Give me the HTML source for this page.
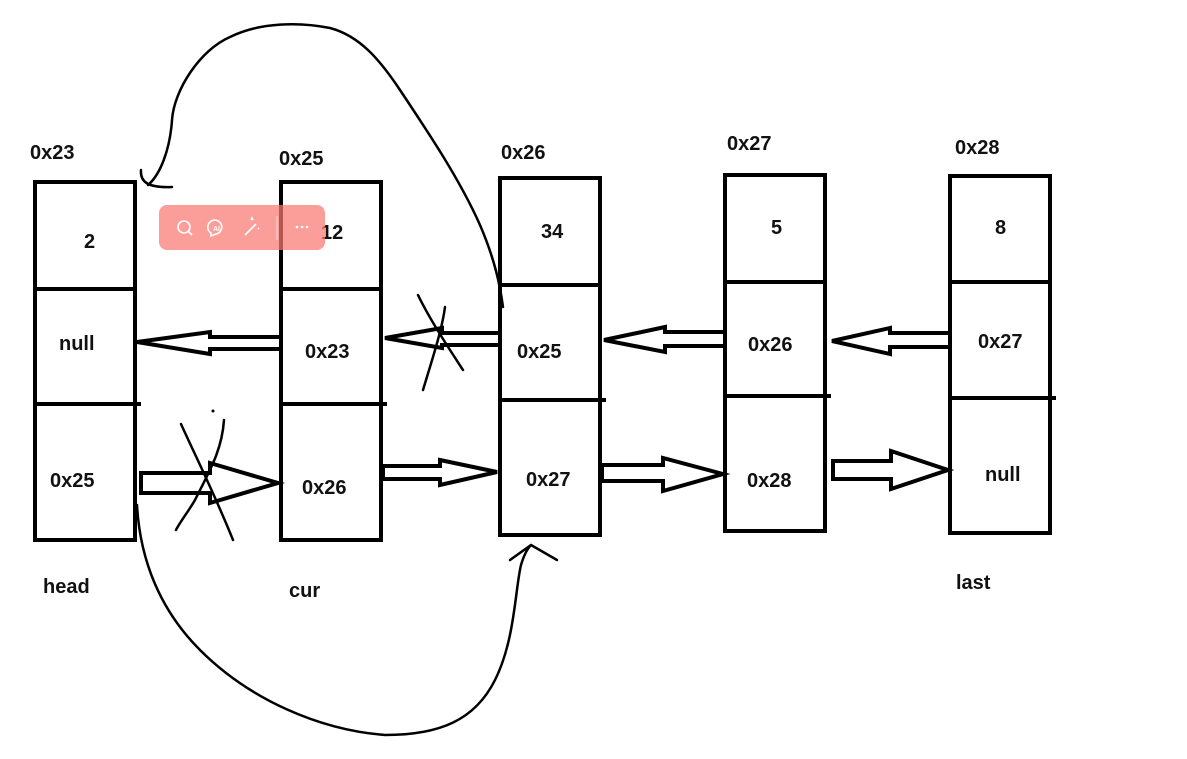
<!DOCTYPE html>
<html><head><meta charset="utf-8"><style>
html,body{margin:0;padding:0;background:#fff;width:1187px;height:759px;overflow:hidden}
svg{display:block}
text{font-family:"Liberation Sans","Noto Sans CJK SC",sans-serif;font-weight:bold;font-size:20px;fill:#111}
</style></head><body>
<svg width="1187" height="759" viewBox="0 0 1187 759">
<g fill="none" stroke="#000" stroke-width="4">
<rect x="35" y="182" width="100" height="358"/>
<line x1="35" y1="289" x2="135" y2="289"/><line x1="35" y1="404" x2="141" y2="404"/>
<rect x="281" y="182" width="100" height="358"/>
<line x1="281" y1="289" x2="381" y2="289"/><line x1="281" y1="404" x2="387" y2="404"/>
<rect x="500" y="178" width="100" height="357"/>
<line x1="500" y1="285" x2="600" y2="285"/><line x1="500" y1="400" x2="606" y2="400"/>
<rect x="725" y="175" width="100" height="356"/>
<line x1="725" y1="282" x2="825" y2="282"/><line x1="725" y1="396" x2="831" y2="396"/>
<rect x="950" y="176" width="100" height="357"/>
<line x1="950" y1="282" x2="1050" y2="282"/><line x1="950" y1="398" x2="1056" y2="398"/>
<!-- left arrows -->
<polygon points="281,337 210,337 210,332 137,342 210,354 210,349 281,349"/>
<polygon points="500,333 442,333 442,328 385,338 442,348 442,345 500,345"/>
<polygon points="725,332 665,332 665,327 604,340 665,352 665,346 725,346"/>
<polygon points="950,333 890,333 890,328 832,341 890,354 890,347 950,347"/>
<!-- right arrows -->
<polygon points="141,473 210,473 210,463 278,483 210,503 210,493 141,493"/>
<polygon points="383,466 440,466 440,460 497,472 440,485 440,479 383,479"/>
<polygon points="602,465 663,465 663,458 723,474 663,491 663,481 602,481"/>
<polygon points="833,461 891,461 891,451 948,470 891,489 891,479 833,479"/>
</g>
<g fill="none" stroke="#000" stroke-width="2.5" stroke-linecap="round" stroke-linejoin="round">
<path d="M141,170 C140,182 148,188 172,187 M148,185 C160,175 170,150 172,120 C174,90 200,50 230,37 C260,22 300,22 330,28 C360,36 380,60 400,90 C430,135 460,180 480,225 C495,260 500,285 503,307"/>
<path d="M137,505 C140,560 160,610 200,650 C250,700 320,730 385,735 C440,735 475,720 495,680 C515,640 515,590 521,565 C524,555 528,548 531,545 M510,560 L531,545 L557,560"/>
<path d="M181,424 C195,455 215,495 233,540"/>
<path d="M224,420 C222,450 210,470 195,500 C188,512 180,522 176,530"/>
<path d="M418,295 C430,320 450,350 463,370"/>
<path d="M445,307 C442,330 432,360 423,390"/>
</g>
<circle cx="213" cy="411" r="1.5" fill="#000"/>
<text x="30" y="159">0x23</text>
<text x="279" y="165">0x25</text>
<text x="501" y="159">0x26</text>
<text x="727" y="150">0x27</text>
<text x="955" y="154">0x28</text>
<text x="84" y="248">2</text>
<text x="321" y="239">12</text>
<text x="541" y="238">34</text>
<text x="771" y="234">5</text>
<text x="995" y="234">8</text>
<text x="59" y="350">null</text>
<text x="305" y="358">0x23</text>
<text x="517" y="358">0x25</text>
<text x="748" y="351">0x26</text>
<text x="978" y="348">0x27</text>
<text x="50" y="487">0x25</text>
<text x="302" y="494">0x26</text>
<text x="526" y="486">0x27</text>
<text x="747" y="487">0x28</text>
<text x="985" y="481">null</text>
<text x="43" y="593">head</text>
<text x="289" y="597">cur</text>
<text x="956" y="589">last</text>
<rect x="159" y="205" width="166" height="45" rx="8" fill="rgba(250,120,115,0.72)"/>
<g fill="none" stroke="#fff" stroke-width="1.6">
<circle cx="184" cy="227" r="6"/><line x1="188" y1="231" x2="192" y2="235"/>
<path d="M211,233 A7,7 0 1 1 216,234 L211,236 Z"/><text x="213" y="231" style="font-size:7px;fill:#fff;stroke:none">AI</text>
<line x1="245" y1="235" x2="256" y2="224"/><path d="M251,220 l1,-2 l1,2 M258,229 l1,-1"/>
<line x1="277" y1="216" x2="277" y2="240" stroke="rgba(255,255,255,0.4)"/>
</g>
<g fill="#fff"><circle cx="297" cy="227" r="1.3"/><circle cx="302" cy="227" r="1.3"/><circle cx="307" cy="227" r="1.3"/></g>
</svg>
</body></html>
